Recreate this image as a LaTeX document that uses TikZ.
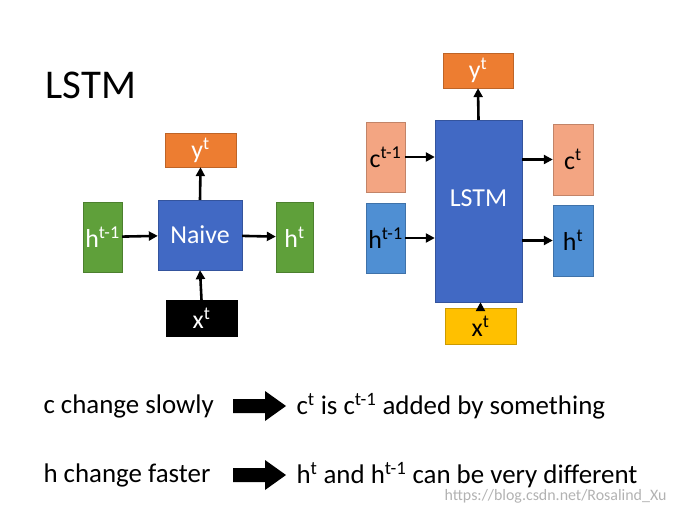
\documentclass[tikz,border=0pt]{standalone}
\usepackage{fontspec}
\setmainfont{Carlito}
\usetikzlibrary{arrows.meta}
\definecolor{orng}{HTML}{ED7D31}
\definecolor{nblue}{HTML}{4169C4}
\definecolor{grn}{HTML}{5FA03A}
\definecolor{salm}{HTML}{F3A582}
\definecolor{lblue}{HTML}{4F8FD3}
\definecolor{ylw}{HTML}{FFC000}
\begin{document}
\begin{tikzpicture}[x=1bp,y=-1bp,
 bx/.style={draw=#1!80!black,fill=#1,text=white,font=\fontsize{26}{28}\selectfont,inner sep=0pt},
 lb/.style={font=\fontsize{26}{28}\selectfont},
 ar/.style={-{Triangle[length=9pt,width=9pt]},line width=2.6pt},
 big/.style={fill=black},
 txt/.style={font=\fontsize{27}{29}\selectfont,anchor=west}]
\useasboundingbox (0,0) rectangle (675,510);
\node[font=\fontsize{41}{43}\selectfont,anchor=west] (title) at (42,85) {LSTM};
% left
\node[bx=orng,minimum width=71bp,minimum height=34bp] (y1) at (200.5,150) {y\textsuperscript{t}};
\node[bx=nblue,minimum width=84bp,minimum height=70bp] (nv) at (200,235) {Naive};
\node[bx=grn,minimum width=39bp,minimum height=70bp] (h1) at (102.5,237) {h\textsuperscript{t-1}};
\node[bx=grn,minimum width=37bp,minimum height=70bp] (h2) at (294.5,237) {h\textsuperscript{t}};
\node[bx=black,minimum width=71bp,minimum height=36bp] (x1) at (201.5,318) {x\textsuperscript{t}};
\draw[ar] (nv.north) -- (y1.south);
\draw[ar] (h1) -- (nv);
\draw[ar] (nv) -- (h2);
\draw[ar] (x1.north) -- (nv.south);
% right
\node[bx=orng,minimum width=70bp,minimum height=35bp] (y2) at (478,70.5) {y\textsuperscript{t}};
\node[bx=nblue,minimum width=87bp,minimum height=182bp] (ls) at (478.5,211) {};
\node[lb,text=white] (lst) at (478.5,198) {LSTM};
\node[bx=salm,minimum width=39bp,minimum height=70bp] (c1) at (385.5,157) {};
\node[lb] at (c1) {c\textsuperscript{t-1}};
\node[bx=lblue,minimum width=39bp,minimum height=70bp] (h3) at (385.5,238) {};
\node[lb] at (h3) {h\textsuperscript{t-1}};
\node[bx=salm,minimum width=40bp,minimum height=71bp] (c2) at (573,159.5) {};
\node[lb] at (c2) {c\textsuperscript{t}};
\node[bx=lblue,minimum width=40bp,minimum height=71bp] (h4) at (573,240.5) {};
\node[lb] at (h4) {h\textsuperscript{t}};
\node[bx=ylw,minimum width=71bp,minimum height=36bp] (x2) at (480.5,326) {};
\node[lb] at (x2) {x\textsuperscript{t}};
\draw[ar] (ls.north) -- (y2.south);
\draw[ar] (c1) -- (c1 -| ls.west);
\draw[ar] (h3) -- (h3 -| ls.west);
\draw[ar] (c2 -| ls.east) -- (c2);
\draw[ar] (h4 -| ls.east) -- (h4);
\draw[ar] (x2.north) -- (x2.north |- ls.south);
% bottom
\node[txt] (t1) at (40,406) {c change slowly};
\fill[big] (233,399) -- (265,399) -- (265,391) -- (286,406) -- (265,421) -- (265,413) -- (233,413) -- cycle;
\node[txt] (t2) at (293,406) {c\textsuperscript{t} is c\textsuperscript{t-1} added by something};
\node[txt] (t3) at (40,475) {h change faster};
\fill[big] (233,468) -- (265,468) -- (265,460) -- (286,475) -- (265,490) -- (265,482) -- (233,482) -- cycle;
\node[txt] (t4) at (293,475) {h\textsuperscript{t} and h\textsuperscript{t-1} can be very different};
\node[text=gray!60,font=\fontsize{16}{17}\selectfont,anchor=east] (wm) at (670,496) {https://blog.csdn.net/Rosalind\_Xu};
\end{tikzpicture}
\end{document}
